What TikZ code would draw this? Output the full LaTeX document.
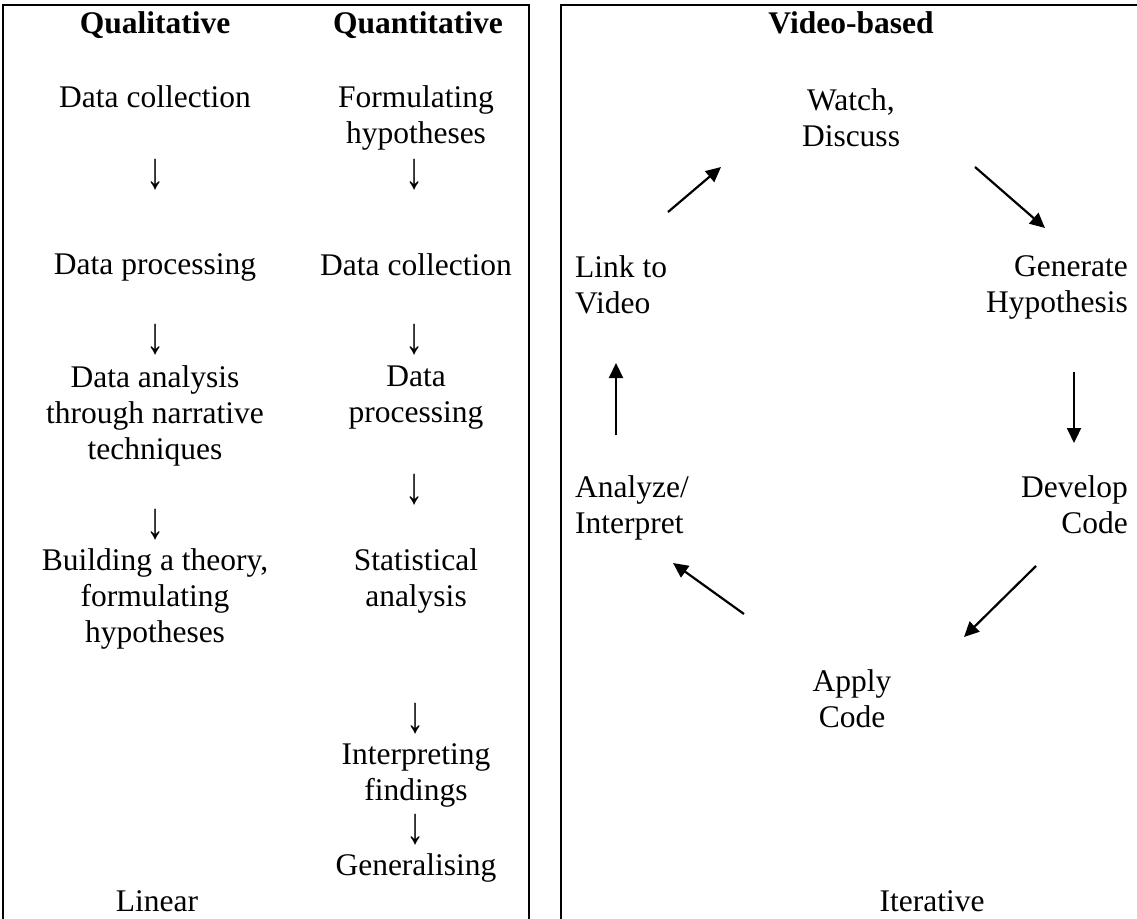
\documentclass[tikz,border=0pt]{standalone}
\usepackage{fontspec}
\usepackage{graphicx}
\setmainfont{Liberation Serif}
\usetikzlibrary{arrows.meta}
\newcommand{\dnarrow}{\scalebox{1.15}[1.65]{↓}}
\begin{document}
\begin{tikzpicture}[x=1pt,y=-1pt,
  txt/.style={inner sep=0pt, font=\fontsize{31.5}{36}\selectfont, align=center, anchor=north},
  txtl/.style={txt, align=left, anchor=north west},
  txtr/.style={txt, align=right, anchor=north east},
  dn/.style={inner sep=0pt, font=\fontsize{31.5}{36}\selectfont, anchor=center},
  frame/.style={line width=2.2pt},
  arr/.style={line width=2.2pt, -{Triangle[length=15pt,width=14pt]}}]
\useasboundingbox (0,0) rectangle (1137,918);
% frames
\draw[frame] (3,930) -- (3,5) -- (529,5) -- (529,930);
\draw[frame] (561,930) -- (561,5) -- (1145,5);
% left box, qualitative column (node top = first baseline - 21.5)
\node[txt] (qual) at (155,11.5) {\textbf{Qualitative}};
\node[txt] (dc1) at (155,85.5) {Data collection};
\node[dn] (ar1) at (156,175) {\dnarrow};
\node[txt] (dp1) at (155,253.5) {Data processing};
\node[dn] (ar2) at (156,340) {\dnarrow};
\node[txt] (da1) at (155,365.5) {Data analysis\\through narrative\\techniques};
\node[dn] (ar3) at (156,525) {\dnarrow};
\node[txt] (bt1) at (155,548.5) {Building a theory,\\formulating\\hypotheses};
\node[txt] (lin) at (157,890.5) {Linear};
% left box, quantitative column
\node[txt] (quant) at (418,11.5) {\textbf{Quantitative}};
\node[txt] (fh) at (416,85.5) {Formulating\\hypotheses};
\node[dn] (ar4) at (415,175) {\dnarrow};
\node[txt] (dc2) at (416,253.5) {Data collection};
\node[dn] (ar5) at (415,340) {\dnarrow};
\node[txt] (dp2) at (416,365.5) {Data\\processing};
\node[dn] (ar6) at (415,490) {\dnarrow};
\node[txt] (sa) at (416,548.5) {Statistical\\analysis};
\node[dn] (ar7) at (416,719) {\dnarrow};
\node[txt] (inf) at (416,743.5) {Interpreting\\findings};
\node[dn] (ar8) at (416,830) {\dnarrow};
\node[txt] (gen2) at (416,853.5) {Generalising};
% right box
\node[txt] (vb) at (851,11.5) {\textbf{Video-based}};
\node[txt] (watch) at (851,88.5) {Watch,\\Discuss};
\node[txtl] (link) at (575,255.5) {Link to\\Video};
\node[txtr] (genh) at (1128,255.5) {Generate\\Hypothesis};
\node[txtl] (anl) at (575,475.5) {Analyze/\\Interpret};
\node[txtr] (dev) at (1128,475.5) {Develop\\Code};
\node[txt] (apply) at (852,669.5) {Apply\\Code};
\node[txt] (iter) at (932,890.5) {Iterative};
% arrow end points
\coordinate (a1s) at (668,212); \coordinate (a1e) at (721,167);
\coordinate (a2s) at (975,167); \coordinate (a2e) at (1045,228);
\coordinate (a3s) at (1074,372); \coordinate (a3e) at (1074,443);
\coordinate (a4s) at (1036,566); \coordinate (a4e) at (964,637);
\coordinate (a5s) at (744,614); \coordinate (a5e) at (673,563);
\coordinate (a6s) at (616,435); \coordinate (a6e) at (616,363);
\draw[arr] (a1s) -- (a1e);
\draw[arr] (a2s) -- (a2e);
\draw[arr] (a3s) -- (a3e);
\draw[arr] (a4s) -- (a4e);
\draw[arr] (a5s) -- (a5e);
\draw[arr] (a6s) -- (a6e);
\end{tikzpicture}
\end{document}
